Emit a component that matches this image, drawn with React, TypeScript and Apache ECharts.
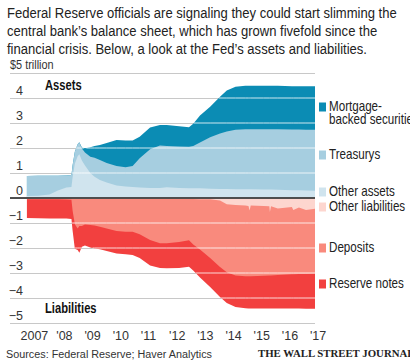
import React, { useEffect, useRef } from 'react';
import * as echarts from 'echarts';

// Dates in decimal years
const dates = [
  2007.10, 2007.50, 2007.90, 2008.20, 2008.50, 2008.68, 2008.72, 2008.80, 2008.90, 2008.96,
  2009.05, 2009.16, 2009.35, 2009.50, 2009.69, 2009.93, 2010.28, 2010.60, 2010.85, 2011.10,
  2011.47, 2011.82, 2012.06, 2012.50, 2012.85, 2013.00, 2013.24, 2013.60, 2013.95, 2014.19,
  2014.50, 2014.85, 2014.96, 2015.00, 2015.04, 2015.50, 2015.70, 2015.72, 2015.76, 2016.00,
  2016.50, 2016.55, 2016.75, 2017.00, 2017.32,
];

// Assets, $ trillion
const otherAssets = [
  0.08, 0.09, 0.14, 0.30, 0.42, 0.44, 0.82, 1.37, 1.67, 1.75,
  1.50, 1.30, 1.00, 0.85, 0.72, 0.62, 0.50, 0.46, 0.44, 0.42,
  0.40, 0.40, 0.43, 0.40, 0.39, 0.39, 0.39, 0.37, 0.36, 0.36,
  0.35, 0.35, 0.35, 0.35, 0.35, 0.34, 0.34, 0.34, 0.34, 0.33,
  0.31, 0.31, 0.31, 0.30, 0.29,
];
const treasurys = [
  0.80, 0.80, 0.75, 0.59, 0.48, 0.48, 0.48, 0.48, 0.48, 0.48,
  0.48, 0.52, 0.65, 0.76, 0.80, 0.78, 0.78, 0.77, 0.84, 1.17,
  1.55, 1.70, 1.65, 1.66, 1.66, 1.69, 1.83, 2.06, 2.22, 2.30,
  2.38, 2.40, 2.40, 2.40, 2.40, 2.41, 2.41, 2.41, 2.41, 2.42,
  2.43, 2.43, 2.43, 2.43, 2.44,
];
const mortgageBacked = [
  0, 0, 0, 0, 0, 0, 0, 0, 0, 0,
  0.04, 0.17, 0.38, 0.47, 0.60, 0.80, 1.04, 1.07, 1.02, 0.86,
  0.87, 0.82, 0.84, 0.81, 0.78, 0.89, 1.08, 1.22, 1.47, 1.64,
  1.72, 1.74, 1.74, 1.74, 1.74, 1.74, 1.74, 1.74, 1.74, 1.74,
  1.73, 1.73, 1.73, 1.74, 1.74,
];

// Liabilities, $ trillion (drawn below zero)
const otherLiabilities = [
  0.03, 0.03, 0.03, 0.03, 0.03, 0.03, 0.04, 0.04, 0.04, 0.04,
  0.04, 0.04, 0.04, 0.04, 0.04, 0.04, 0.04, 0.04, 0.04, 0.04,
  0.04, 0.04, 0.04, 0.04, 0.04, 0.04, 0.05, 0.05, 0.10, 0.25,
  0.28, 0.30, 0.32, 0.50, 0.30, 0.32, 0.33, 0.56, 0.33, 0.42,
  0.36, 0.48, 0.38, 0.48, 0.43,
];
const deposits = [
  0.02, 0.02, 0.02, 0.02, 0.03, 0.04, 0.46, 1.01, 1.18, 1.08,
  1.08, 1.02, 1.04, 1.06, 1.11, 1.18, 1.28, 1.31, 1.31, 1.41,
  1.64, 1.77, 1.77, 1.72, 1.65, 1.82, 2.01, 2.35, 2.66, 2.72,
  2.82, 2.83, 2.81, 2.63, 2.83, 2.79, 2.77, 2.54, 2.77, 2.66,
  2.69, 2.57, 2.66, 2.56, 2.60,
];
const reserveNotes = [
  0.75, 0.76, 0.77, 0.77, 0.76, 0.77, 0.80, 0.98, 0.86, 1.07,
  0.83, 0.84, 0.90, 0.92, 0.90, 0.90, 0.90, 0.90, 0.93, 0.95,
  1.02, 0.99, 1.00, 1.04, 1.06, 1.04, 1.12, 1.16, 1.20, 1.23,
  1.26, 1.28, 1.29, 1.29, 1.29, 1.31, 1.32, 1.32, 1.32, 1.34,
  1.37, 1.37, 1.38, 1.39, 1.40,
];

const tickYears = [2008, 2009, 2010, 2011, 2012, 2013, 2014, 2015, 2016, 2017];
const labelYears = [2007, 2008, 2009, 2010, 2011, 2012, 2013, 2014, 2015, 2016, 2017];
const gridLevels = [4, 3, 2, 1, -1, -2, -3, -4];

const COLORS = {
  mbs: '#0b8cb4',
  treasurys: '#a6cee0',
  otherAssets: '#d0e4ee',
  otherLiabilities: '#fdd6cf',
  deposits: '#f98a7d',
  reserveNotes: '#f2403f',
};

const FONT = '"Liberation Sans", Arial, sans-serif';

function cumulative(parts: number[][], sign: number) {
  return dates.map((d, i) => [d, sign * parts.reduce((s, p) => s + p[i], 0)]);
}

function overlay(level: number, totals: number[]) {
  const inside = (v: number) => (level > 0 ? v >= level : v <= level);
  const pts: any[] = [];
  for (let i = 0; i < dates.length; i++) {
    const cur = inside(totals[i]);
    if (i > 0) {
      const prev = inside(totals[i - 1]);
      if (cur !== prev) {
        const t = (level - totals[i - 1]) / (totals[i] - totals[i - 1]);
        const xc = dates[i - 1] + t * (dates[i] - dates[i - 1]);
        pts.push([xc, level]);
        if (!cur) pts.push([xc, '-']);
      }
    }
    if (cur) pts.push([dates[i], level]);
  }
  return pts;
}

export default function App() {
  const ref = useRef<HTMLDivElement>(null);
  useEffect(() => {
    if (!ref.current) return;
    const chart = echarts.init(ref.current, undefined, { renderer: 'svg' });

    const assetTotals = dates.map((_, i) => otherAssets[i] + treasurys[i] + mortgageBacked[i]);
    const liabTotals = dates.map((_, i) => -(otherLiabilities[i] + deposits[i] + reserveNotes[i]));

    // Bands are drawn as cumulative areas from zero; the outermost first so inner ones paint on top.
    const area = (name: string, data: any[], color: string, z: number, extra: any = {}) => ({
      name,
      type: 'line',
      data,
      showSymbol: false,
      symbol: 'none',
      lineStyle: { width: 0 },
      areaStyle: { color, opacity: 1, origin: 'auto' },
      itemStyle: { color },
      silent: true,
      z,
      ...extra,
    });

    const overlays = gridLevels.map((lv) => ({
      type: 'line',
      data: overlay(lv, lv > 0 ? assetTotals : liabTotals),
      showSymbol: false,
      symbol: 'none',
      connectNulls: false,
      lineStyle: { color: 'rgba(255,255,255,0.8)', width: 1 },
      silent: true,
      z: 4,
    }));

    const legendItems = [
      { text: 'Mortgage-\nbacked securities', color: COLORS.mbs, y: 107 },
      { text: 'Treasurys', color: COLORS.treasurys, y: 155 },
      { text: 'Other assets', color: COLORS.otherAssets, y: 192 },
      { text: 'Other liabilities', color: COLORS.otherLiabilities, y: 207 },
      { text: 'Deposits', color: COLORS.deposits, y: 248 },
      { text: 'Reserve notes', color: COLORS.reserveNotes, y: 284 },
    ];

    const graphics: any[] = [
      {
        type: 'text', x: 7, y: 4, scaleX: 0.87,
        style: {
          text: 'Federal Reserve officials are signaling they could start slimming the\ncentral bank\u2019s balance sheet, which has grown fivefold since the\nfinancial crisis. Below, a look at the Fed\u2019s assets and liabilities.',
          font: `15px ${FONT}`, lineHeight: 18, fill: '#222', verticalAlign: 'top',
        },
      },
      { type: 'text', x: 10, y: 65, scaleX: 0.84, style: { text: '$5 trillion', font: `13px ${FONT}`, fill: '#333', verticalAlign: 'middle' } },
      { type: 'text', x: 45, y: 86, scaleX: 0.8, style: { text: 'Assets', font: `bold 14px ${FONT}`, fill: '#111', verticalAlign: 'middle' }, z: 10 },
      { type: 'text', x: 45, y: 309, scaleX: 0.8, style: { text: 'Liabilities', font: `bold 14px ${FONT}`, fill: '#111', verticalAlign: 'middle' }, z: 10 },
      { type: 'text', x: 6, y: 354, scaleX: 0.94, style: { text: 'Sources: Federal Reserve; Haver Analytics', font: `11.5px ${FONT}`, fill: '#333', verticalAlign: 'middle' } },
      { type: 'text', x: 258, y: 353, style: { text: 'THE WALL STREET JOURNAL', font: 'bold 10.8px "Liberation Serif", "DejaVu Serif", serif', fill: '#222', verticalAlign: 'middle' } },
    ];
    legendItems.forEach((it) => {
      graphics.push({ type: 'rect', shape: { x: 319, y: it.y - 4.5, width: 7, height: 9 }, style: { fill: it.color } });
      graphics.push({
        type: 'text', x: 329, y: it.y - 7.5, scaleX: 0.83,
        style: { text: it.text, font: `14px ${FONT}`, fill: '#222', lineHeight: 13, verticalAlign: 'top' },
      });
    });

    chart.setOption({
      animation: false,
      grid: { left: 10, right: 95, top: 73, bottom: 37, containLabel: false },
      xAxis: {
        type: 'value',
        min: 2006.5,
        max: 2017.32,
        axisLine: { show: false },
        splitLine: { show: false },
        axisTick: { show: true, customValues: tickYears, length: 12, lineStyle: { color: '#555', width: 1 } },
        axisLabel: {
          customValues: labelYears.map((y) => (y === 2007 ? 2006.73 : y)),
          formatter: (v: number) => (v < 2007.5 ? '2007' : "'" + String(Math.round(v)).slice(2)),
          align: 'left',
          padding: [0, 0, 0, 4],
          margin: 6,
          fontSize: 12.5,
          color: '#333',
          fontFamily: FONT,
        },
      },
      yAxis: {
        type: 'value',
        min: -5,
        max: 5,
        interval: 1,
        axisLine: { show: false },
        axisTick: { show: false },
        splitLine: { show: true, lineStyle: { color: '#c8c8c8', width: 1 } },
        axisLabel: {
          inside: true,
          margin: 13,
          align: 'right',
          verticalAlign: 'bottom',
          padding: [0, 0, 1, 0],
          fontSize: 12.5,
          color: '#333',
          fontFamily: FONT,
          formatter: (v: number) => (v === 5 ? '' : String(v).replace('-', '\u2212')),
        },
      },
      series: [
        area('Mortgage-backed securities', cumulative([otherAssets, treasurys, mortgageBacked], 1), COLORS.mbs, 2, {
          markLine: {
            silent: true,
            symbol: ['none', 'none'],
            label: { show: false },
            lineStyle: { color: '#444', width: 1.6, type: 'solid' },
            data: [{ yAxis: 0 }],
          },
        }),
        area('Treasurys', cumulative([otherAssets, treasurys], 1), COLORS.treasurys, 2),
        area('Other assets', cumulative([otherAssets], 1), COLORS.otherAssets, 2),
        area('Reserve notes', cumulative([otherLiabilities, deposits, reserveNotes], -1), COLORS.reserveNotes, 2),
        area('Deposits', cumulative([otherLiabilities, deposits], -1), COLORS.deposits, 2),
        area('Other liabilities', cumulative([otherLiabilities], -1), COLORS.otherLiabilities, 2),
        ...overlays,
        {
          type: 'line',
          data: [],
          silent: true,
          z: 6,
          markLine: {
            silent: true,
            symbol: ['none', 'none'],
            label: { show: false },
            lineStyle: { color: '#444', width: 1.6, type: 'solid' },
            data: [{ yAxis: 0 }],
          },
        },
      ],
      graphic: graphics,
    });

    return () => chart.dispose();
  }, []);

  return <div ref={ref} style={{ position: 'absolute', left: 0, top: 0, width: 410, height: 360 }} />;
}
